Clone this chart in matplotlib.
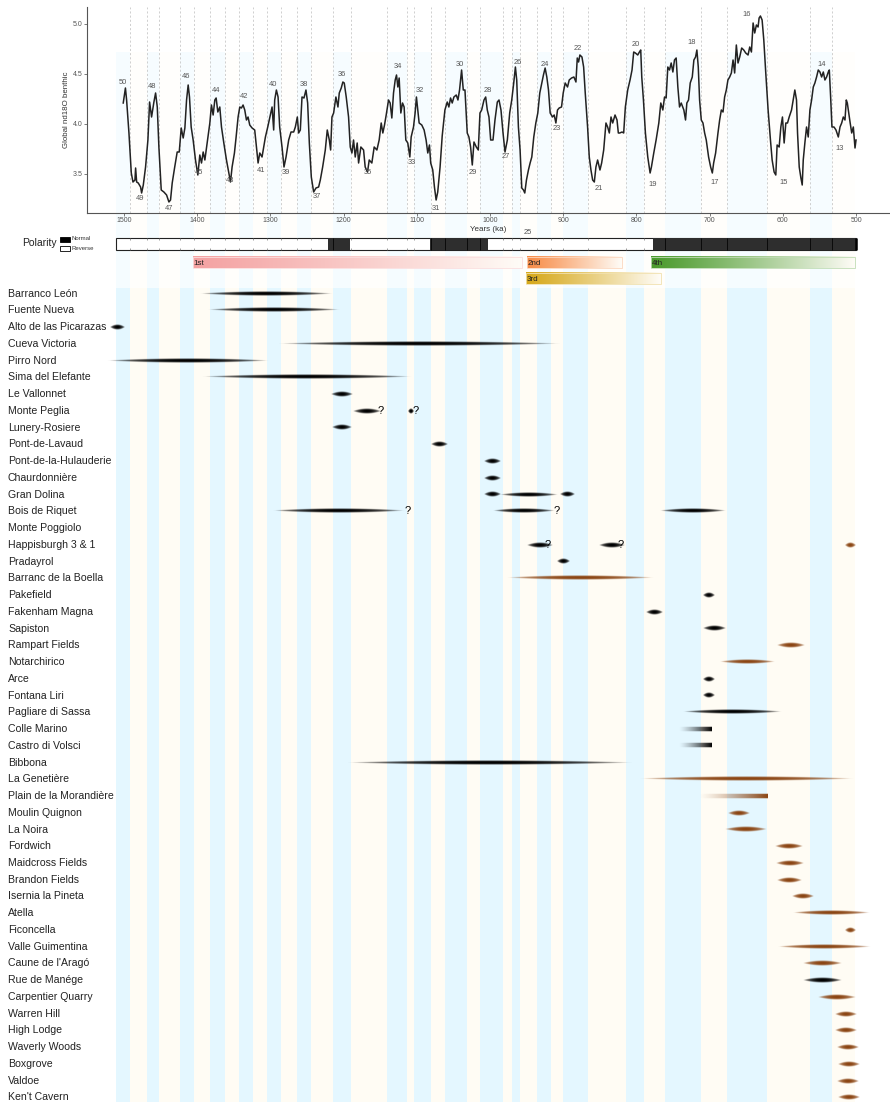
import numpy as np
import matplotlib
matplotlib.use('Agg')
import matplotlib.pyplot as plt
import matplotlib.transforms as mtrans
from matplotlib.patches import Rectangle
from matplotlib.colors import to_rgb

plt.rcParams['font.family'] = ['Liberation Sans', 'DejaVu Sans']

# benthic d18O curve (ka, per mil)
d18o_age = [1501, 1498, 1496.4, 1493.2, 1490, 1487.7, 1485, 1484.1, 1482.7, 1480.5, 1477.3, 1475.9, 1473.6,
            1470.5, 1467.3, 1465, 1462.3, 1459.1, 1456.8, 1454.5, 1452.3, 1449.1, 1445.5, 1441.8, 1438.6,
            1436.4, 1434.1, 1430.9, 1427.3, 1424.5, 1421.8, 1419.1, 1416.8, 1414.5, 1412.3, 1410.5, 1408.2,
            1405.5, 1402.3, 1399.1, 1396.4, 1394.1, 1391.8, 1389.5, 1386.4, 1382.7, 1380.5, 1378.2, 1375.9,
            1374.1, 1371.8, 1369.1, 1366.8, 1363.6, 1360, 1356.8, 1354.5, 1352.3, 1349.1, 1346.8, 1344.1,
            1341.8, 1339.5, 1337.3, 1335, 1332.7, 1330.5, 1328.2, 1325, 1321.4, 1319.1, 1316.8, 1314.5,
            1311.4, 1309.1, 1306.8, 1303.6, 1300, 1297.7, 1295.5, 1294.1, 1291.8, 1289.5, 1287.3, 1284.1,
            1281.4, 1278.6, 1275, 1271.8, 1268.2, 1265.9, 1263.2, 1261.4, 1259.1, 1256.8, 1254.1, 1251.4,
            1249.1, 1246.8, 1244.1, 1240.9, 1237.7, 1234.1, 1231.8, 1228.6, 1225, 1222.3, 1219.5, 1217.7,
            1215.9, 1213.6, 1210.5, 1207.7, 1205.9, 1203.2, 1201, 1199.1, 1196.4, 1193.2, 1190.9, 1188.6,
            1186.4, 1184.1, 1181.4, 1179.5, 1176.4, 1172.7, 1170.5, 1167.3, 1165, 1161.4, 1158.2, 1154.5,
            1151.4, 1148.6, 1146.4, 1144.1, 1141.8, 1138.6, 1136.4, 1134.1, 1131.8, 1129.5, 1127.7, 1125.9,
            1124.1, 1121.8, 1119.5, 1117.3, 1115, 1112.3, 1109.5, 1107.7, 1104.5, 1102.3, 1100.5, 1098.6,
            1096.8, 1093.2, 1090, 1087.3, 1085, 1082.7, 1081, 1078.2, 1075.9, 1073.6, 1071.4, 1068.2,
            1065.3, 1061.6, 1058.4, 1056.2, 1053.9, 1051.6, 1049.3, 1046.1, 1043.8, 1041.6, 1038.8, 1036.5,
            1034.2, 1031.1, 1028.8, 1026.5, 1024.2, 1021.9, 1018.7, 1016, 1013.7, 1011.4, 1008.2, 1005.9,
            1003.7, 1001.4, 999.1, 995.9, 993.2, 990, 987.7, 985, 982.2, 979.5, 976.3, 973.1, 970.3, 967.6,
            965.3, 963.5, 961.2, 958.9, 956.6, 954.3, 952.5, 950.2, 947.5, 945.2, 942.9, 940.2, 937.4, 934.7,
            932, 929.2, 927, 924.7, 922.4, 920.1, 917.8, 914.6, 912.3, 910, 907.8, 905.5, 902.3, 900, 897.3,
            894.1, 891.8, 888.6, 885.4, 882.6, 880.8, 879, 877.2, 874.4, 872.1, 869.9, 866.7, 864.4, 862.1,
            859.8, 857.5, 855.3, 853, 849.8, 847.5, 844.7, 841.6, 839.3, 837, 834.7, 832.4, 829.2, 826.5,
            824.7, 822.8, 819.6, 817.4, 815.1, 811.9, 808.7, 806, 803.7, 801.4, 798.2, 795.9, 794.1, 792.7,
            790.4, 787.7, 784.5, 781.3, 779.5, 776.3, 773.1, 769.4, 766.7, 763.9, 761.6, 759.4, 757.1, 754.8,
            752.5, 750.2, 748, 745.7, 743.4, 741.1, 738.8, 735.2, 732.9, 731.1, 728.8, 726.5, 723.7, 721.5,
            719.2, 717.4, 715.5, 713.7, 711.4, 709.1, 706.8, 704.6, 701.4, 698.6, 696.3, 694.5, 691.8, 688.6,
            686.3, 684, 681.7, 679.5, 677.2, 675, 672.6, 670.3, 668, 665.8, 663.5, 661.2, 658.9, 656.2, 653.4,
            650.7, 647.5, 645.2, 642.9, 640.6, 638.4, 636.1, 633.8, 632.4, 630.6, 628.3, 626, 623.3, 620.1,
            616.9, 614.6, 611.9, 609.6, 607.8, 605, 602.7, 600.5, 598.2, 595.9, 593.6, 591.3, 588.1, 585.8,
            583.6, 581.3, 579.9, 577.6, 575.3, 573.5, 572.1, 569.9, 567.6, 565.3, 563, 560.7, 558.4, 556.2,
            553.9, 551.6, 549.3, 547, 544.7, 542.5, 540.2, 537.9, 536.5, 534.7, 532.9, 530.1, 527.4, 524.2,
            521.9, 519.6, 517.4, 515.1, 513.3, 511.9, 510, 508.2, 505.9, 503.7, 501.4, 500]
d18o_val = [4.21, 4.36, 4.24, 3.91, 3.51, 3.42, 3.44, 3.56, 3.42, 3.41, 3.37, 3.31, 3.39,
            3.57, 3.84, 4.22, 4.07, 4.22, 4.31, 4.17, 3.77, 3.34, 3.32, 3.29, 3.22,
            3.24, 3.41, 3.56, 3.72, 3.72, 3.96, 3.86, 3.96, 4.24, 4.39, 4.27, 3.97,
            3.84, 3.64, 3.49, 3.69, 3.61, 3.72, 3.64, 3.81, 4.01, 4.19, 4.09, 4.24,
            4.26, 4.12, 4.17, 3.97, 3.81, 3.64, 3.51, 3.42, 3.57, 3.71, 3.87, 4.07,
            4.17, 4.16, 4.19, 4.14, 4.04, 4.07, 3.99, 3.96, 3.94, 3.77, 3.61, 3.71,
            3.67, 3.77, 3.87, 3.97, 4.09, 4.17, 3.94, 4.24, 4.34, 4.27, 3.97, 3.77,
            3.57, 3.67, 3.84, 3.92, 3.92, 3.97, 4.07, 3.91, 3.94, 4.27, 4.26, 4.34,
            4.21, 3.81, 3.47, 3.32, 3.36, 3.37, 3.44, 3.57, 3.74, 3.94, 3.84, 3.74,
            4.07, 4.11, 4.27, 4.17, 4.31, 4.36, 4.42, 4.41, 4.27, 4.07, 3.77, 3.71,
            3.84, 3.67, 3.81, 3.61, 3.77, 3.74, 3.57, 3.52, 3.64, 3.61, 3.77, 3.74,
            3.84, 4.01, 3.91, 3.99, 4.09, 4.24, 4.21, 4.06, 4.31, 4.44, 4.49, 4.37,
            4.46, 4.11, 4.21, 4.17, 3.84, 3.81, 3.67, 3.87, 3.97, 4.11, 4.27, 4.14,
            4.01, 3.99, 3.94, 3.84, 3.71, 3.79, 3.61, 3.54, 3.37, 3.24, 3.32, 3.57,
            3.88, 4.14, 4.22, 4.17, 4.26, 4.21, 4.27, 4.29, 4.24, 4.34, 4.54, 4.34,
            4.34, 3.91, 3.87, 3.77, 3.59, 3.82, 3.77, 3.74, 4.11, 4.14, 4.24, 4.27,
            4.14, 4.07, 3.84, 3.84, 4.04, 4.22, 4.24, 4.14, 3.91, 3.72, 3.84, 4.11, 4.24, 4.41,
            4.57, 4.44, 3.97, 3.74, 3.36, 3.34, 3.31, 3.44, 3.54, 3.61, 3.67, 3.87, 4.01, 4.11,
            4.31, 4.41, 4.49, 4.56, 4.47, 4.34, 4.11, 4.07, 4.09, 4.01, 4.14, 4.16, 4.17, 4.31, 4.41,
            4.37, 4.44, 4.46, 4.47, 4.42, 4.66, 4.62, 4.69, 4.67, 4.57, 4.31, 3.97, 3.67, 3.54,
            3.44, 3.42, 3.57, 3.64, 3.54, 3.61, 3.74, 4.01, 3.97, 3.91, 4.07, 4.01, 4.09, 4.04,
            3.91, 3.91, 3.92, 3.91, 4.17, 4.34, 4.44, 4.54, 4.72, 4.71, 4.69, 4.72, 4.74, 4.47,
            4.24, 3.91, 3.67, 3.51, 3.57, 3.71, 3.84, 4.01, 4.21, 4.14, 4.27, 4.26, 4.57, 4.54,
            4.61, 4.52, 4.64, 4.66, 4.37, 4.17, 4.21, 4.14, 4.04, 4.21, 4.24, 4.41, 4.47, 4.64,
            4.67, 4.74, 4.57, 4.24, 4.04, 4.01, 3.91, 3.84, 3.67, 3.57, 3.51, 3.61, 3.71, 3.91,
            4.04, 4.14, 4.12, 4.27, 4.34, 4.44, 4.47, 4.51, 4.64, 4.51, 4.79, 4.61, 4.67, 4.76, 4.74,
            4.71, 4.69, 4.77, 4.72, 5.01, 4.91, 4.99, 4.97, 5.06, 5.08, 5.04, 4.84, 4.51, 4.14,
            3.84, 3.64, 3.52, 3.49, 3.79, 3.77, 3.97, 4.07, 3.81, 4.01, 4.01, 4.07, 4.14, 4.24,
            4.34, 4.24, 3.91, 3.57, 3.46, 3.39, 3.64, 3.81, 3.97, 3.87, 4.14, 4.24, 4.37, 4.41,
            4.47, 4.54, 4.52, 4.47, 4.52, 4.44, 4.47, 4.52, 4.54, 4.27, 3.97, 3.97, 3.94, 3.87,
            3.97, 4.01, 4.07, 4.04, 4.24, 4.21, 4.11, 4.02, 3.91, 3.97, 3.76, 3.84]

# MIS numbers printed on the curve and where they sit
lab_num = [50, 49, 48, 47, 46, 45, 44, 43, 42, 41, 40, 39, 38, 37, 36, 35, 34, 33, 32, 31,
           30, 29, 28, 27, 26, 25, 24, 23, 22, 21, 20, 19, 18, 17, 16, 15, 14, 13]
lab_age = [1500.9, 1477.7, 1461.8, 1438.2, 1415.5, 1397.3, 1373.6, 1355, 1335.5, 1312.7, 1296.8,
           1278.2, 1254.5, 1235.9, 1201.8, 1167.3, 1126, 1106.8, 1096.4, 1073.6, 1041.6, 1023.3,
           1002.7, 978.5, 962.6, 948.9, 925.6, 909.1, 880.4, 851.6, 800.5, 777.6, 724.2, 693.2,
           649.3, 599.5, 547, 522]
lab_val = [4.41, 3.25, 4.37, 3.16, 4.47, 3.51, 4.33, 3.44, 4.28, 3.54, 4.4, 3.51, 4.4, 3.27,
           4.49, 3.51, 4.57, 3.62, 4.33, 3.16, 4.6, 3.51, 4.34, 3.67, 4.62, 2.92, 4.6, 3.95,
           4.75, 3.35, 4.8, 3.39, 4.82, 3.42, 5.09, 3.42, 4.59, 3.76]

# marine isotope stage boundaries (ka), MIS 50 ... MIS 13
mis_bounds = [1511, 1492, 1469, 1452, 1423, 1405, 1383, 1362, 1343, 1324, 1304, 1286, 1264,
              1244, 1215, 1190, 1141, 1114, 1104, 1081, 1062, 1031, 1014, 982, 970, 959, 936,
              917, 900, 866, 814, 790, 761, 712, 676, 621, 563, 533, 501]
mis_stage = list(range(50, 12, -1))

# normal polarity intervals (old, young)
normal_old = [1221, 1082, 777]
normal_young = [1191, 1003, 500]

# dispersal phases
phase_name = ['1st', '2nd', '3rd', '4th']
phase_old = [1406, 949.5, 951, 780]
phase_young = [956, 820, 767, 501]
phase_col = ['#f4a2a2', '#f78c48', '#d6a81a', '#4a9a2c']
phase_row = [0, 0, 1, 0]

sites = ['Barranco León', 'Fuente Nueva', 'Alto de las Picarazas', 'Cueva Victoria', 'Pirro Nord',
         'Sima del Elefante', 'Le Vallonnet', 'Monte Peglia', 'Lunery-Rosiere', 'Pont-de-Lavaud',
         'Pont-de-la-Hulauderie', 'Chaurdonnière', 'Gran Dolina', 'Bois de Riquet', 'Monte Poggiolo',
         'Happisburgh 3 & 1', 'Pradayrol', 'Barranc de la Boella', 'Pakefield', 'Fakenham Magna',
         'Sapiston', 'Rampart Fields', 'Notarchirico', 'Arce', 'Fontana Liri', 'Pagliare di Sassa',
         'Colle Marino', 'Castro di Volsci', 'Bibbona', 'La Genetière', 'Plain de la Morandière',
         'Moulin Quignon', 'La Noira', 'Fordwich', 'Maidcross Fields', 'Brandon Fields',
         'Isernia la Pineta', 'Atella', 'Ficoncella', 'Valle Guimentina', "Caune de l'Aragó",
         'Rue de Manége', 'Carpentier Quarry', 'Warren Hill', 'High Lodge', 'Waverly Woods',
         'Boxgrove', 'Valdoe', "Ken't Cavern"]

# age ranges per site (ka); 'k' = black, 'b' = brown, half = open-ended ramp
spin_site = ['Barranco León', 'Fuente Nueva', 'Alto de las Picarazas', 'Cueva Victoria', 'Pirro Nord',
             'Sima del Elefante', 'Le Vallonnet', 'Monte Peglia', 'Monte Peglia', 'Lunery-Rosiere',
             'Pont-de-Lavaud', 'Pont-de-la-Hulauderie', 'Chaurdonnière', 'Gran Dolina', 'Gran Dolina',
             'Gran Dolina', 'Bois de Riquet', 'Bois de Riquet', 'Bois de Riquet', 'Happisburgh 3 & 1',
             'Happisburgh 3 & 1', 'Happisburgh 3 & 1', 'Pradayrol', 'Barranc de la Boella', 'Pakefield',
             'Fakenham Magna', 'Sapiston', 'Rampart Fields', 'Notarchirico', 'Arce', 'Fontana Liri',
             'Pagliare di Sassa', 'Colle Marino', 'Castro di Volsci', 'Bibbona', 'La Genetière',
             'Plain de la Morandière', 'Moulin Quignon', 'La Noira', 'Fordwich', 'Maidcross Fields',
             'Brandon Fields', 'Isernia la Pineta', 'Atella', 'Ficoncella', 'Valle Guimentina',
             "Caune de l'Aragó", 'Rue de Manége', 'Carpentier Quarry', 'Warren Hill', 'High Lodge',
             'Waverly Woods', 'Boxgrove', 'Valdoe', "Ken't Cavern"]
spin_old = [1396, 1385, 1519, 1290, 1523, 1393, 1217, 1187, 1112, 1216, 1081, 1008, 1008, 1008, 986,
            904, 1296, 996, 768, 949, 851, 515, 908, 977, 709, 787, 709, 608, 686, 709, 709, 736,
            742, 742, 1195, 795, 714, 675, 679, 611, 609, 608, 587, 586, 515, 607, 572, 572, 552,
            529, 529, 526, 525, 526, 525]
spin_young = [1215, 1205, 1499, 904, 1303, 1107, 1188, 1150, 1105, 1189, 1059, 986, 986, 986, 908,
              884, 1116, 912, 679, 914, 816, 501, 891, 777, 693, 764, 678, 571, 611, 693, 693, 601,
              697, 698, 805, 504, 620, 645, 622, 574, 572, 574, 557, 481, 501, 481, 519, 519, 501,
              499, 499, 497, 496, 497, 496]
spin_col = ['k', 'k', 'k', 'k', 'k', 'k', 'k', 'k', 'k', 'k', 'k', 'k', 'k', 'k', 'k', 'k', 'k', 'k',
            'k', 'k', 'k', 'b', 'k', 'b', 'k', 'k', 'k', 'b', 'b', 'k', 'k', 'k', 'k', 'k', 'k', 'b',
            'b', 'b', 'b', 'b', 'b', 'b', 'b', 'b', 'b', 'b', 'b', 'k', 'b', 'b', 'b', 'b', 'b', 'b', 'b']
spin_half = ['Colle Marino', 'Castro di Volsci', 'Plain de la Morandière']

# uncertain dates flagged with '?'
q_site = ['Monte Peglia', 'Monte Peglia', 'Bois de Riquet', 'Bois de Riquet',
          'Happisburgh 3 & 1', 'Happisburgh 3 & 1']
q_age = [1149, 1101, 1112, 909, 921, 822]

W, H = 890, 1103
XL = (1550.5, 453.6)
BROWN = '#8b4513'
fig = plt.figure(figsize=(W / 100, H / 100), dpi=100)

ax_low = fig.add_axes([87 / W, 0, 803 / W, 1 - 213 / H])
ax = fig.add_axes([87 / W, 1 - 213 / H, 803 / W, 206 / H])
ax.set_zorder(3)
ax.patch.set_visible(False)
row = {s: i for i, s in enumerate(sites)}

# stage bands
for i, st in enumerate(mis_stage):
    o, y = mis_bounds[i], mis_bounds[i + 1]
    glacial = st % 2 == 0
    ax_low.fill_betweenx([-0.33, 48.3], o, y, color='#e4f7ff' if glacial else '#fffcf4', lw=0, zorder=0)
    ax_low.fill_betweenx([-4.81, -0.33], o, y, color='#f5fcff' if glacial else '#fffefb', lw=0, zorder=0)
    ax.fill_betweenx([3.0, 4.72], o, y, color='#f6fcff' if glacial else '#fffefc', lw=0, zorder=0)
for b in mis_bounds[1:-1]:
    ax.axvline(b, color='#c8c8c8', lw=0.6, ls=(0, (2.5, 2.5)), zorder=1)

# top panel
ax.plot(d18o_age, d18o_val, color='#222222', lw=1.1, zorder=2)
for n, a, v in zip(lab_num, lab_age, lab_val):
    ax.text(a, v, str(n), fontsize=5.4, color='#555555', ha='center', va='center', clip_on=False)
ax.set_xlim(XL)
ax.set_ylim(3.11, 5.17)
ax.set_xticks(range(500, 1501, 100))
ax.set_yticks([3.5, 4.0, 4.5, 5.0])
ax.set_yticklabels(['3.5', '4.0', '4.5', '5.0'])
ax.spines[['top', 'right']].set_visible(False)
for s in ['left', 'bottom']:
    ax.spines[s].set_color('#555555')
    ax.spines[s].set_linewidth(0.8)
ax.tick_params(labelsize=5, colors='#666666', labelcolor='#555555', length=2, width=0.6, pad=1)
ax.set_xlabel('Years (ka)', fontsize=5.8, color='#333333', labelpad=1)
ax.set_ylabel('Global nd18O benthic', fontsize=5.7, color='#333333', labelpad=2)

# polarity bar
pt, ph = -3.31, 0.71
ax_low.add_patch(Rectangle((1511, pt), 500 - 1511, ph, facecolor='white', edgecolor='#222222', lw=0.8, zorder=2))
for o, y in zip(normal_old, normal_young):
    ax_low.add_patch(Rectangle((o, pt), y - o, ph, facecolor='#2e2e2e', edgecolor='none', zorder=3))
for b in mis_bounds[1:-1]:
    inside = any(y <= b <= o for o, y in zip(normal_old, normal_young))
    if inside:
        ax_low.vlines(b, pt, pt + ph, color='#0a0a0a', lw=0.7, zorder=4)
    else:
        ax_low.vlines(b, pt, pt + 0.1, color='#777777', lw=0.5, zorder=4)
        ax_low.vlines(b, pt + ph - 0.1, pt + ph, color='#777777', lw=0.5, zorder=4)
ax_low.vlines(500, pt, pt + ph, color='black', lw=1.8, zorder=4)

fig.text(22 / W, 1 - 243 / H, 'Polarity', fontsize=7.5, va='center', ha='left', color='#222222')
fig.add_artist(Rectangle((60 / W, 1 - 242 / H), 10 / W, 5 / H, transform=fig.transFigure,
                         facecolor='black', edgecolor='black', lw=0.6))
fig.add_artist(Rectangle((60 / W, 1 - 251 / H), 10 / W, 5 / H, transform=fig.transFigure,
                         facecolor='white', edgecolor='black', lw=0.6))
fig.text(71 / W, 1 - 239 / H, 'Normal', fontsize=4.3, va='center', ha='left', color='#333333')
fig.text(71 / W, 1 - 248.5 / H, 'Reverse', fontsize=4.3, va='center', ha='left', color='#333333')

# dispersal phase bars
row_top = [-2.18, -1.22]
for name, o, y, c, r in zip(phase_name, phase_old, phase_young, phase_col, phase_row):
    t = np.linspace(0, 1, 256) ** 1.1
    c0 = np.array(to_rgb(c))
    rgb = c0[None, :] * (1 - t[:, None]) + np.array([1.0, 0.99, 0.97])[None, :] * t[:, None]
    y0 = row_top[r]
    ax_low.imshow(rgb[None, :, :], extent=(o, y, y0 + 0.66, y0), aspect='auto',
                  interpolation='bilinear', zorder=3)
    edge = c0 * 0.35 + 0.65
    ax_low.add_patch(Rectangle((o, y0), y - o, 0.66, fill=False, edgecolor=edge, lw=0.6, zorder=4))
    ax_low.text(o - 1, y0 + 0.36, name, fontsize=5.8, va='center', ha='left', color='#222222', zorder=5)

# site names
trans = mtrans.blended_transform_factory(fig.transFigure, ax_low.transData)
for i, s in enumerate(sites):
    ax_low.text(8 / W, i, s, transform=trans, fontsize=7.6, va='center', ha='left', color='#222222')


def spindle(o, y, r, color, half):
    h = 0.34 if (o - y) < 60 else 0.24
    U, V = np.meshgrid(np.linspace(-1, 1, 300), np.linspace(-1, 1, 31))
    if half:
        a = ((U + 1) / 2) ** 1.3 * (np.abs(V) <= 0.75)
        h = 0.32
    else:
        tt = np.clip(1 - U ** 2, 1e-4, None)
        a = np.clip(1.8 * (1 - np.abs(V) / tt), 0, 1) * tt ** 0.6
    rgba = np.zeros((31, 300, 4))
    rgba[..., :3] = to_rgb(color)
    rgba[..., 3] = a
    ax_low.imshow(rgba, extent=(o, y, r + h / 2, r - h / 2), aspect='auto',
                  interpolation='bilinear', zorder=4)


for s, o, y, c in zip(spin_site, spin_old, spin_young, spin_col):
    spindle(o, y, row[s], 'black' if c == 'k' else BROWN, s in spin_half)

for s, a in zip(q_site, q_age):
    ax_low.text(a, row[s], '?', fontsize=8, ha='center', va='center', color='black', zorder=5)

ax_low.set_xlim(XL)
ax_low.set_ylim(48.33, -4.81)
ax_low.axis('off')

fig.savefig('out.png', dpi=100)
